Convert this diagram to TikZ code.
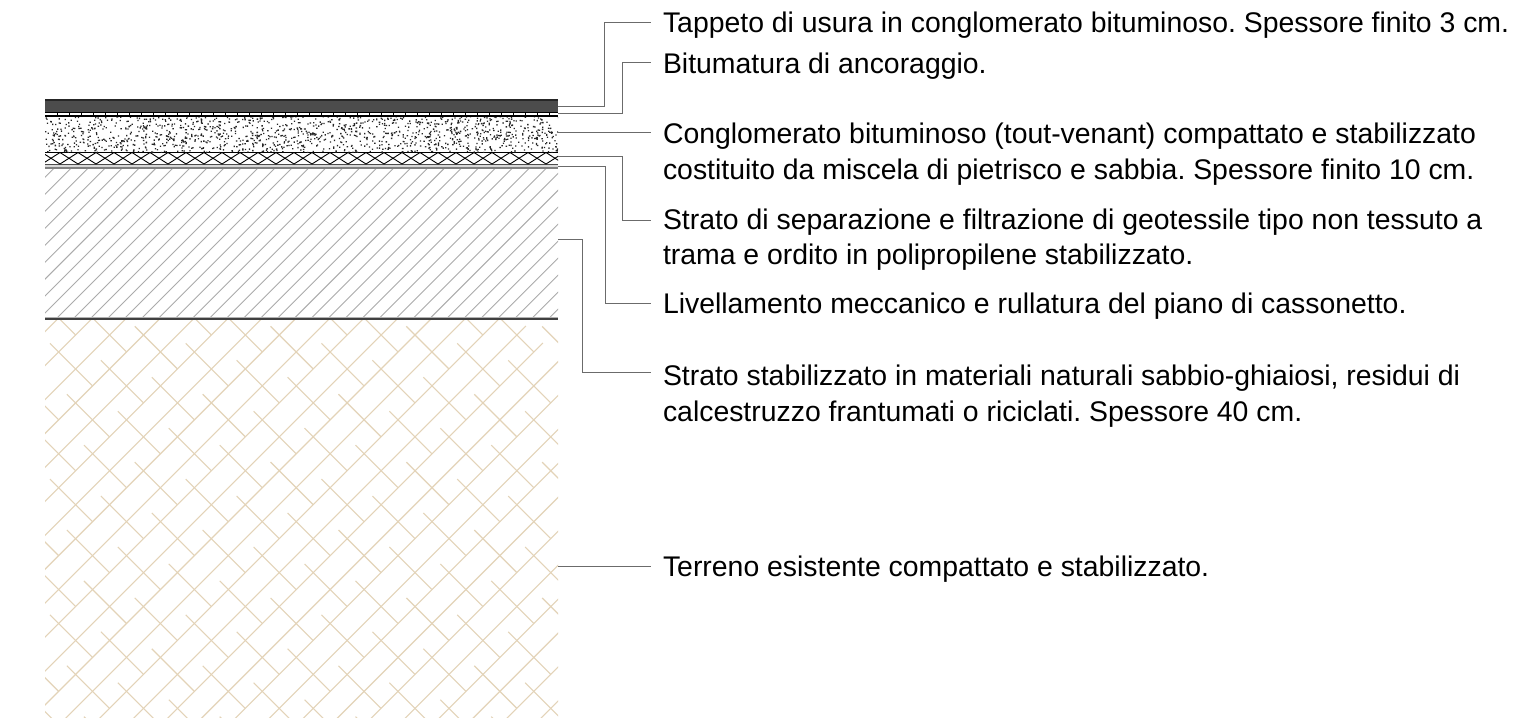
\documentclass[tikz,border=0pt]{standalone}
\usepackage{fontspec}
\setmainfont{Liberation Sans}
\definecolor{brownl}{HTML}{E3D3B8}
\tikzset{
  hatchline/.style={draw=black!33,line width=0.9pt},
  brownline/.style={draw=brownl,line width=1.1pt},
  edge line/.style={draw=black,line width=1.1pt},
  leader/.style={draw=black!58,line width=1.05pt},
  label text/.style={anchor=north west,inner sep=0pt,outer sep=0pt,align=left,text=black,font=\fontsize{28.4}{35.5}\selectfont\frenchspacing},
}
\begin{document}
\begin{tikzpicture}[x=1pt,y=-1pt]
\useasboundingbox (0,0) rectangle (1517,724);
\fill[white] (0,0) rectangle (1517,724);
% terrain pattern
\begin{scope}
\clip (45,319) rectangle (558,717);
\foreach \k in {0,...,27}{
  \pgfmathsetmacro\uu{376.67+33.94*\k}
  \draw[brownline] ({(\uu+200)/2},{(\uu-200)/2}) -- ({(\uu-700)/2},{(\uu+700)/2});
}
\foreach \n in {-12,...,17}{
  \pgfmathsetmacro\vv{-293.33+33.94*\n}
  \pgfmathsetmacro\off{mod(\n+100,2)*67.88}
  \foreach \m in {-2,...,8}{
    \pgfmathsetmacro\ua{393.33+\off+135.76*\m}
    \pgfmathsetmacro\ub{\ua+84.85}
    \draw[brownline] ({(\ua+\vv)/2},{(\ua-\vv)/2}) -- ({(\ub+\vv)/2},{(\ub-\vv)/2});
  }
}
\end{scope}
% stabilised layer hatch
\begin{scope}
\clip (45,168) rectangle (558,319);
\foreach \k in {-1,...,40}{
  \pgfmathsetmacro\uu{222.3+16.97*\k}
  \draw[hatchline] ({\uu-30},30) -- ({\uu-400},400);
}
\end{scope}
% bottom boundary
\fill[black!30] (45,316.8) rectangle (558,318.4);
\draw[draw=black!75,line width=1.2pt] (45,319) -- (558,319);
% levelling band
\fill[black!15] (45,164.5) rectangle (558,167.5);
\draw[draw=black!70,line width=1pt] (45,164) -- (558,164);
\draw[draw=black!50,line width=1.2pt] (45,168) -- (558,168);
% geotextile crosses
\begin{scope}
\clip (45,152.5) rectangle (558,164);
\foreach \k in {-1,...,29}{
  \pgfmathsetmacro\xc{51+18*\k}
  \draw[draw=black,line width=0.9pt] ({\xc-9},152.5) -- ({\xc+9},164);
  \draw[draw=black,line width=0.9pt] ({\xc-9},164) -- ({\xc+9},152.5);
}
\end{scope}
\draw[edge line] (45,152.5) -- (558,152.5);
% aggregate stipple
\begin{scope}
\clip (45,116) rectangle (558,152);
\pgfmathsetseed{91357}
\fill[black!85] foreach \i in {1,...,1350}{
  ({45+513*random()},{116+36*random()}) rectangle +(1.3,1.3)
};
\end{scope}
% asphalt layers
\fill[black!70] (45,100) rectangle (558,111.5);
\draw[draw=black!85,line width=1.4pt] (45,100) -- (558,100);
\draw[edge line] (45,112.8) -- (558,112.8);
\draw[edge line] (45,116) -- (558,116);
\foreach \k in {1,...,42}{
  \draw[draw=black,line width=0.9pt] ({45+12*\k},112.8) -- ({45+12*\k},116);
}
% labels
\node[label text] (t1) at (663,{32.5-24.85}) {\strut Tappeto di usura in conglomerato bituminoso. Spessore finito 3 cm.};
\node[label text] (t2) at (663,{73-24.85}) {\strut Bitumatura di ancoraggio.};
\node[label text] (t3) at (663,{143.5-24.85}) {\strut Conglomerato bituminoso (tout-venant) compattato e stabilizzato\\costituito da miscela di pietrisco e sabbia. Spessore finito 10 cm.};
\node[label text] (t4) at (663,{229-24.85}) {\strut Strato di separazione e filtrazione di geotessile tipo non tessuto a\\trama e ordito in polipropilene stabilizzato.};
\node[label text] (t5) at (663,{313-24.85}) {\strut Livellamento meccanico e rullatura del piano di cassonetto.};
\node[label text] (t6) at (663,{385.5-24.85}) {\strut Strato stabilizzato in materiali naturali sabbio-ghiaiosi, residui di\\calcestruzzo frantumati o riciclati. Spessore 40 cm.};
\node[label text] (t7) at (663,{576-24.85}) {\strut Terreno esistente compattato e stabilizzato.};
% leader ends
\coordinate (a1) at (558,106.7); \coordinate (e1) at (651,22.3);
\coordinate (a2) at (558,113.3); \coordinate (e2) at (651,62.7);
\coordinate (a3) at (558,132.3); \coordinate (e3) at (651,132.3);
\coordinate (a4) at (558,156.7); \coordinate (e4) at (651,220.7);
\coordinate (a5) at (558,166.3); \coordinate (e5) at (651,303.3);
\coordinate (a6) at (558,239.3); \coordinate (e6) at (651,372.3);
\coordinate (a7) at (558,566.3); \coordinate (e7) at (651,566.3);
\draw[leader] (a1) -- (604.7,106.7) -- (604.7,22.3) -- (e1);
\draw[leader] (a2) -- (622.3,113.3) -- (622.3,62.7) -- (e2);
\draw[leader] (a3) -- (e3);
\draw[leader] (a4) -- (622.3,156.7) -- (622.3,220.7) -- (e4);
\draw[leader] (a5) -- (605.3,166.3) -- (605.3,303.3) -- (e5);
\draw[leader] (a6) -- (582.3,239.3) -- (582.3,372.3) -- (e6);
\draw[leader] (a7) -- (e7);
\end{tikzpicture}
\end{document}
